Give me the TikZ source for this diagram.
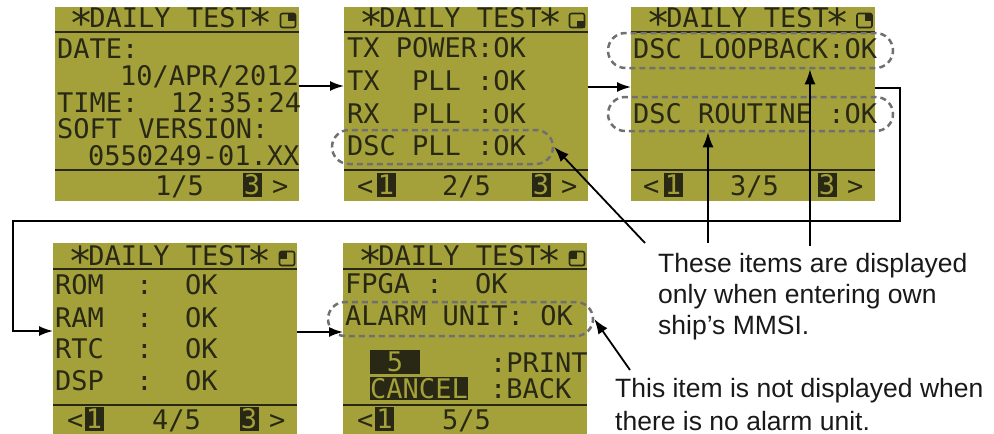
\documentclass[tikz,border=0pt]{standalone}
\usepackage{fontspec}
\setmainfont{Liberation Sans}
\newfontfamily\lcdfont{DejaVu Sans Mono}
\usetikzlibrary{arrows.meta,shapes.misc}

\definecolor{lcdback}{RGB}{164,161,58}
\definecolor{lcdink}{RGB}{40,40,20}
\definecolor{ringgray}{RGB}{112,112,112}

\tikzset{
  screen/.style={fill=lcdback, minimum width=244pt, minimum height=194pt, anchor=north west, inner sep=0pt, outer sep=0pt},
  lcd/.style={font=\lcdfont\fontsize{27}{27}\selectfont, text=lcdink, anchor=base west, inner sep=0pt},
  keybox/.style={lcd, anchor=center, fill=lcdink, text=lcdback, minimum width=19pt, minimum height=24pt},
  ring/.style={rounded rectangle, draw=ringgray, line width=2.5pt, dash pattern=on 6pt off 4pt, minimum height=34pt, inner sep=0pt},
  rule/.style={lcdink, line width=2.2pt},
  flow/.style={line width=1.8pt, -{Latex[length=14pt,width=10pt]}},
  callout/.style={line width=1.8pt, -{Latex[length=15pt,width=11pt]}},
  note/.style={font=\fontsize{26.5}{31}\selectfont, align=left, anchor=base west, inner sep=0pt, text=black!90}
}

% big lcd asterisk, one cell wide
\newcommand{\lstar}{\makebox[0.602em]{\raisebox{-2pt}{\fontsize{40}{40}\selectfont ∗}}}
% little busy icon in the title bar
\newcommand{\lcdicon}[2]{%
  \draw[lcdink, line width=1.6pt, rounded corners=2pt] (#1) ++(-7.5,-7) rectangle ++(15,14);
  \fill[lcdink] (#1) rectangle ++#2;}

\begin{document}
\begin{tikzpicture}[x=1pt,y=-1pt]
\useasboundingbox (0,0) rectangle (994,434);

% screen 1/5
\begin{scope}[shift={(55,7)}]
\node[screen] (p1) at (0,0) {};
\draw[rule] (0,25) -- (244,25);
\draw[rule] (0,163) -- (244,163);
\node[lcd] (h1) at (18,20) {\lstar DAILY TEST\lstar};
\lcdicon{233,13.5}{(7.5,-7)}
\node[lcd] (date) at (2,51) {DATE:};
\node[lcd] (day) at (65,78) {10/APR/2012};
\node[lcd] (time) at (2,105) {TIME:~~12:35:24};
\node[lcd] (soft) at (2,131) {SOFT VERSION:};
\node[lcd] (ver) at (33,158) {0550249-01.XX};
\node[lcd] (pg1) at (100,188) {1/5};
\node[keybox] (k13) at (197,178) {3};
\node[lcd] (nx1) at (217,188) {>};
\end{scope}

% screen 2/5
\begin{scope}[shift={(344,7)}]
\node[screen] (p2) at (0,0) {};
\draw[rule] (0,25) -- (244,25);
\draw[rule] (0,163) -- (244,163);
\node[lcd] (h2) at (19,20) {\lstar DAILY TEST\lstar};
\lcdicon{233,13.5}{(7.5,7)}
\node[lcd] (txp) at (3,50) {TX POWER:OK};
\node[lcd] (txl) at (3,83) {TX~~PLL :OK};
\node[lcd] (rxl) at (3,116) {RX~~PLL :OK};
\node[lcd] (dscl) at (3,148) {DSC PLL :OK};
\node[lcd] (pv2) at (13,188) {<};
\node[keybox] (k21) at (42,178) {1};
\node[lcd] (pg2) at (98,188) {2/5};
\node[keybox] (k23) at (197,178) {3};
\node[lcd] (nx2) at (217,188) {>};
\end{scope}

% screen 3/5
\begin{scope}[shift={(631,7)}]
\node[screen] (p3) at (0,0) {};
\draw[rule] (0,25) -- (244,25);
\draw[rule] (0,163) -- (244,163);
\node[lcd] (h3) at (19,20) {\lstar DAILY TEST\lstar};
\lcdicon{233.5,13.5}{(7.5,-7)}
\node[lcd] (loop) at (2,51) {DSC LOOPBACK:OK};
\node[lcd] (rout) at (2,116) {DSC ROUTINE :OK};
\node[lcd] (pv3) at (12,188) {<};
\node[keybox] (k31) at (42,178) {1};
\node[lcd] (pg3) at (99,188) {3/5};
\node[keybox] (k33) at (196,178) {3};
\node[lcd] (nx3) at (216,188) {>};
\end{scope}

% screen 4/5
\begin{scope}[shift={(53,243)}]
\node[screen, minimum height=191pt] (p4) at (0,0) {};
\draw[rule] (0,26) -- (244,26);
\draw[rule] (0,162) -- (244,162);
\node[lcd] (h4) at (19,22) {\lstar DAILY TEST\lstar};
\lcdicon{234,15.5}{(-7.5,-7)}
\node[lcd] (rom) at (2,51) {ROM~~:~~OK};
\node[lcd] (ram) at (2,84) {RAM~~:~~OK};
\node[lcd] (rtc) at (2,115) {RTC~~:~~OK};
\node[lcd] (dsp) at (2,147) {DSP~~:~~OK};
\node[lcd] (pv4) at (14,186) {<};
\node[keybox] (k41) at (41,176) {1};
\node[lcd] (pg4) at (99,186) {4/5};
\node[keybox] (k43) at (196,176) {3};
\node[lcd] (nx4) at (216,186) {>};
\end{scope}

% screen 5/5
\begin{scope}[shift={(343,243)}]
\node[screen, minimum height=191pt] (p5) at (0,0) {};
\draw[rule] (0,26) -- (244,26);
\draw[rule] (0,162) -- (244,162);
\node[lcd] (h5) at (19,22) {\lstar DAILY TEST\lstar};
\lcdicon{234,15.5}{(-7.5,-7)}
\node[lcd] (fpga) at (2,50) {FPGA :~~OK};
\node[lcd] (alarm) at (2,82) {ALARM UNIT: OK};
\node[keybox, minimum width=50pt] (kprint) at (52,119) {5};
\node[keybox, minimum width=98pt, minimum height=23pt] (kback) at (76,145.5) {CANCEL};
\node[lcd] (print) at (147,129) {:PRINT};
\node[lcd] (back) at (147,155) {:BACK};
\node[lcd] (pv5) at (14,186) {<};
\node[keybox] (k51) at (41.5,176) {1};
\node[lcd] (pg5) at (99,186) {5/5};
\end{scope}

% optional items
\node[ring, minimum width=221pt] (ring1) at (442.5,147) {};
\node[ring, minimum width=285pt, minimum height=35pt] (ring2) at (750.5,50.5) {};
\node[ring, minimum width=285pt] (ring3) at (750.5,114) {};
\node[ring, minimum width=265pt] (ring4) at (460.5,319) {};

% page order
\draw[flow] (p1.east |- 0,86) -- (p2.west |- 0,86);
\draw[flow] (p2.east |- 0,87) -- (p3.west |- 0,87);
\draw[flow] (p3.east |- 0,88) -| (900,221) -| (13,331) -- (p4.west |- 0,331);
\draw[flow] (p4.east |- 0,332) -- (p5.west |- 0,332);

% notes (base = last line)
\node[note] (note1) at (658,334) {These items are displayed\\only when entering own\\ship’s MMSI.};
\node[note, font=\fontsize{26.5}{33}\selectfont] (note2) at (615,430) {This item is not displayed when\\there is no alarm unit.};

\coordinate (c1) at (645,243);
\coordinate (c2) at (708,243);
\coordinate (c3) at (810,246);
\coordinate (c4) at (630,370);
\draw[callout] (c1) -- (ring1.east);
\draw[callout] (c2) -- (ring3.south -| c2);
\draw[callout] (c3) -- (ring2.south -| c3);
\draw[callout] (c4) -- (ring4.east);

\end{tikzpicture}
\end{document}
